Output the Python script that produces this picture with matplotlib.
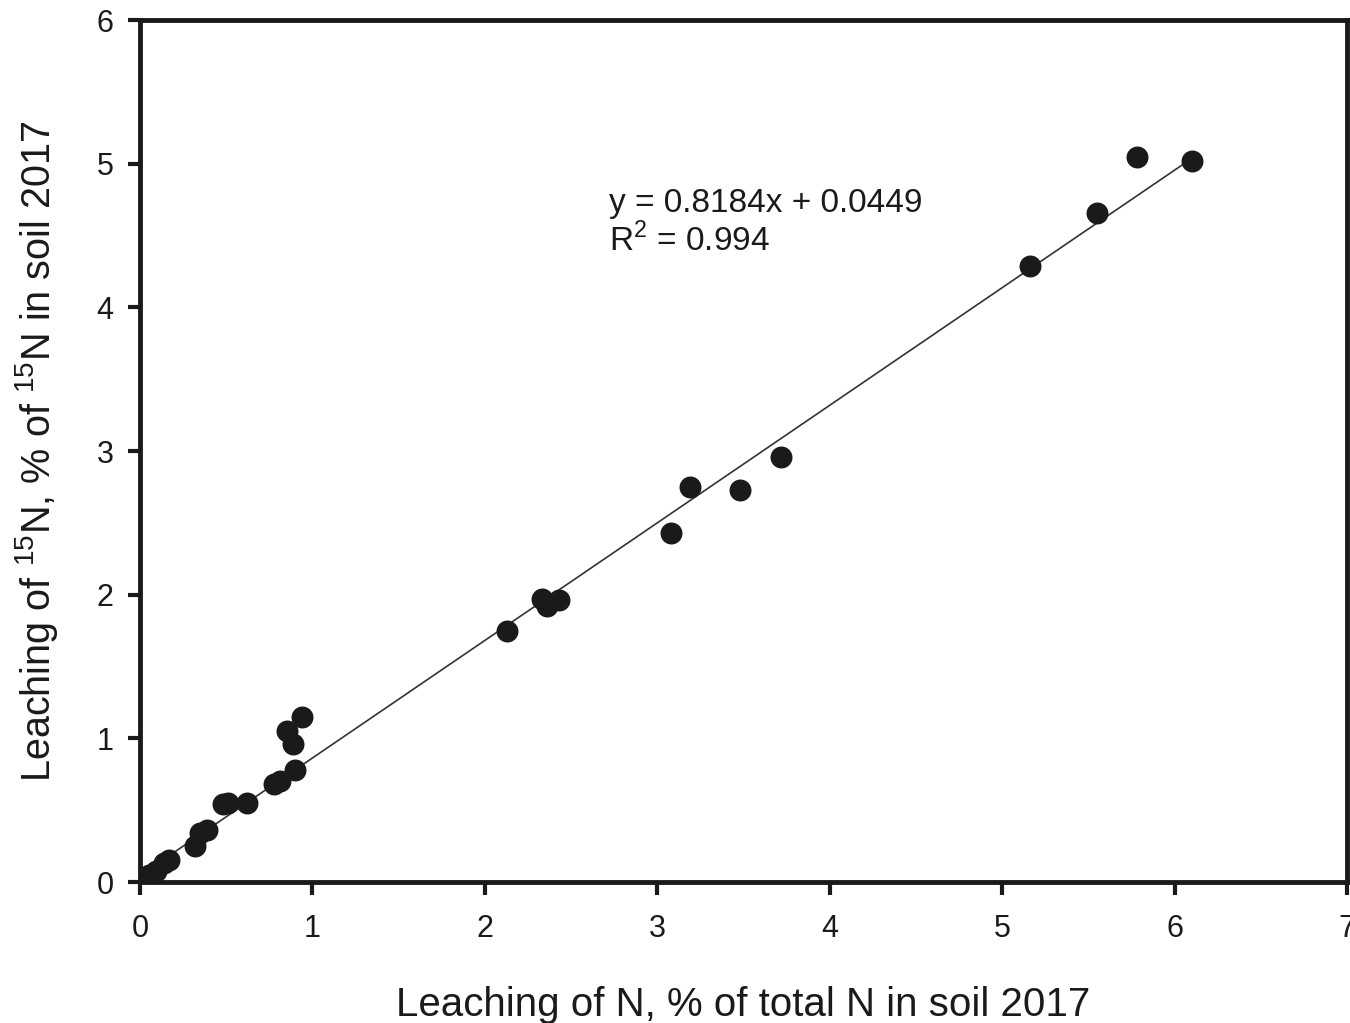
import matplotlib
matplotlib.use("Agg")
import matplotlib.pyplot as plt
import numpy as np

plt.rcParams['font.family'] = ['Liberation Sans', 'DejaVu Sans']
plt.rcParams['mathtext.fontset'] = 'custom'
plt.rcParams['mathtext.rm'] = 'Liberation Sans'

x_vals = [6.10, 5.78, 5.55, 5.16, 3.72, 3.48, 3.19, 3.08, 2.43, 2.36, 2.33, 2.13,
          0.94, 0.85, 0.89, 0.90, 0.81, 0.78, 0.62, 0.51, 0.48, 0.39, 0.35, 0.32,
          0.17, 0.14, 0.09, 0.05, 0.02]
y_vals = [5.02, 5.05, 4.66, 4.29, 2.96, 2.73, 2.75, 2.43, 1.96, 1.92, 1.97, 1.75,
          1.15, 1.05, 0.96, 0.78, 0.70, 0.68, 0.55, 0.55, 0.54, 0.36, 0.34, 0.25,
          0.15, 0.13, 0.08, 0.05, 0.02]
slope, intercept = 0.8184, 0.0449
fit_x = [0.0, 6.1]
x_ticks = [0, 1, 2, 3, 4, 5, 6, 7]
y_ticks = [0, 1, 2, 3, 4, 5, 6]

fig = plt.figure(figsize=(13.5, 10.23), dpi=100)
ax = fig.add_axes([0.1037, 0.1378, 0.8941, 0.8426])
ax.scatter(x_vals, y_vals, s=250, color='#1a1a1a', zorder=3, linewidths=0)
fx = np.array(fit_x)
ax.plot(fx, slope * fx + intercept, color='#333333', lw=1.2, zorder=2)

ax.set_xlim(0, 7)
ax.set_ylim(0, 6)
ax.set_xticks(x_ticks)
ax.set_yticks(y_ticks)
for s in ax.spines.values():
    s.set_linewidth(3.5)
    s.set_color('#1a1a1a')
ax.tick_params(direction='out', length=9, width=3, labelsize=22, colors='#1a1a1a', pad=10)
ax.tick_params(axis='x', pad=14)

ax.set_xlabel('Leaching of N, % of total N in soil 2017', fontsize=29, labelpad=30, color='#1a1a1a')
ax.set_ylabel(r'Leaching of $^{\mathregular{15}}$N, % of $^{\mathregular{15}}$N in soil 2017',
              fontsize=28.5, labelpad=26, color='#1a1a1a')

ax.text(2.72, 4.83, 'y = 0.8184x + 0.0449\nR$^{\\mathregular{2}}$ = 0.994', fontsize=24, color='#1a1a1a',
        va='top', ha='left', linespacing=1.15)

fig.savefig('out.png', dpi=100, facecolor='white')
